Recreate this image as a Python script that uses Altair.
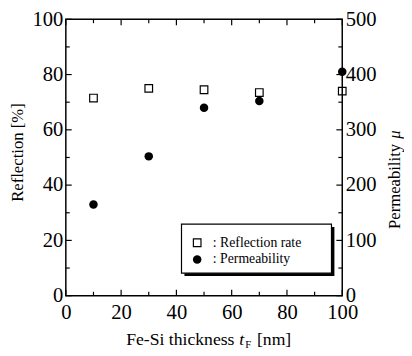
import altair as alt
import pandas as pd

FONT = "Liberation Serif"

thickness = [10, 30, 50, 70, 100]
reflection = [71.5, 75.0, 74.5, 73.5, 74.0]
permeability = [165, 252, 340, 352, 405]

x_labels = [0, 20, 40, 60, 80, 100]
y_labels = [0, 20, 40, 60, 80, 100]
p_labels = [0, 100, 200, 300, 400, 500]
major = [0, 20, 40, 60, 80, 100]
minor = [10, 30, 50, 70, 90]

df = pd.DataFrame({"t": thickness, "r": reflection, "p": permeability})

xs = alt.Scale(domain=[0, 100], nice=False, zero=False)
ys = alt.Scale(domain=[0, 100], nice=False)
ps = alt.Scale(domain=[0, 500], nice=False)

common = dict(title=None, ticks=False, domain=False, grid=False, labelFont=FONT,
              labelFontSize=21, labelColor="black", labelOverlap=False,
              labelFlush=False, format="d")
xaxis = alt.Axis(values=x_labels, labelPadding=6, **common)
yaxis = alt.Axis(values=y_labels, labelPadding=3, orient="left", **common)
paxis = alt.Axis(values=p_labels, labelPadding=3, orient="right", **common)

W = H = 282

refl = alt.Chart(df).mark_point(shape="square", filled=False, stroke="black",
                                strokeWidth=1.2, size=60, opacity=1).encode(
    x=alt.X("t:Q", scale=xs, axis=xaxis),
    y=alt.Y("r:Q", scale=ys, axis=yaxis),
)

perm = alt.Chart(df).mark_point(shape="circle", filled=True, color="black",
                                size=75, opacity=1).encode(
    x=alt.X("t:Q", scale=xs, axis=xaxis),
    y=alt.Y("p:Q", scale=ps, axis=paxis),
)


def xticks(vals, y0, y1):
    d = pd.DataFrame({"v": vals})
    return alt.Chart(d).mark_rule(color="black", strokeWidth=1.2).encode(
        x=alt.X("v:Q", scale=xs, axis=xaxis), y=alt.value(y0), y2=alt.value(y1))


def yticks(vals, x0, x1):
    d = pd.DataFrame({"v": vals})
    return alt.Chart(d).mark_rule(color="black", strokeWidth=1.2).encode(
        y=alt.Y("v:Q", scale=ys, axis=yaxis), x=alt.value(x0), x2=alt.value(x1))


ticks = [
    xticks(major, H, H - 6), xticks(minor, H, H - 4),
    xticks(major, 0, 6), xticks(minor, 0, 4),
    yticks(major, 0, 6), yticks(minor, 0, 4),
    yticks(major, W, W - 6), yticks(minor, W, W - 4),
]


def txt(s, x, y, size=17, angle=0, align="center", style="normal", baseline="middle"):
    return alt.Chart(alt.Data(values=[{}])).mark_text(
        text=s, fontSize=size, font=FONT, angle=angle, align=align,
        baseline=baseline, fontStyle=style, color="black").encode(
        x=alt.value(x), y=alt.value(y))


texts = [
    txt("Reflection [%]", -49, 136, angle=270),
    txt("Permeability", 336, 214, angle=270, align="left"),
    txt("μ", 336, 122, angle=270, align="left", style="italic"),
    txt("Fe-Si thickness", 172, 327, size=18, align="right"),
    txt("t", 177, 327, size=18, align="left", style="italic"),
    txt("F", 183, 332, size=11, align="left"),
    txt("[nm]", 195, 327, size=18, align="left"),
]

shadow = alt.Chart(alt.Data(values=[{}])).mark_rect(color="black").encode(
    x=alt.value(121), x2=alt.value(274), y=alt.value(212), y2=alt.value(262))
box = alt.Chart(alt.Data(values=[{}])).mark_rect(fill="white", stroke="black",
                                                  strokeWidth=1.2).encode(
    x=alt.value(118), x2=alt.value(271), y=alt.value(209), y2=alt.value(259))
leg_sq = alt.Chart(alt.Data(values=[{}])).mark_point(
    shape="square", filled=False, stroke="black", strokeWidth=1.2, size=60, opacity=1).encode(
    x=alt.value(134), y=alt.value(228))
leg_ci = alt.Chart(alt.Data(values=[{}])).mark_point(
    shape="circle", filled=True, color="black", size=75, opacity=1).encode(
    x=alt.value(134), y=alt.value(245))
legend = [shadow, box, leg_sq, leg_ci,
          txt(": Reflection rate", 150, 228, size=14, align="left"),
          txt(": Permeability", 150, 245, size=14, align="left")]

left = alt.layer(refl, *ticks, *texts, *legend)
chart = alt.layer(left, perm).resolve_scale(y="independent").properties(
    width=W, height=H,
    autosize=alt.AutoSizeParams(type="none"),
    padding={"left": 59, "top": 8, "right": 63, "bottom": 56},
    background="white",
).configure(font=FONT).configure_axis(
    labelFont=FONT, labelFontSize=21, labelColor="black"
).configure_text(font=FONT).configure_view(stroke="black", strokeWidth=1.5)

chart.save("out.html", embed_options={"renderer": "svg", "actions": False})
